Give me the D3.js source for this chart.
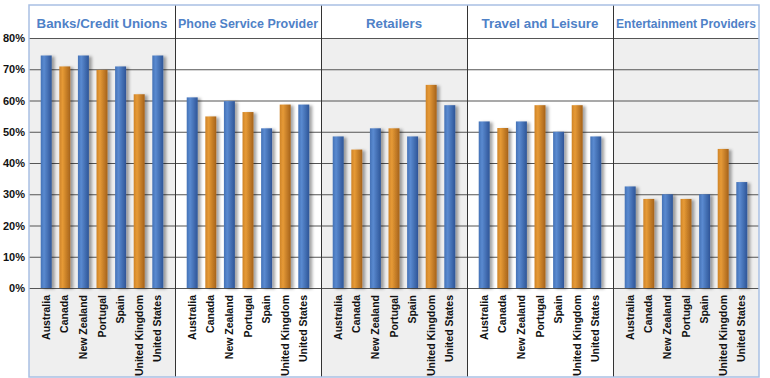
<!DOCTYPE html>
<html>
<head>
<meta charset="utf-8">
<script src="https://cdn.jsdelivr.net/npm/d3@7"></script>
<style>
  body { margin: 0; background: #fff; }
  svg { display: block; font-family: "Liberation Sans", Arial, sans-serif; }
</style>
</head>
<body>
<svg width="770" height="378"></svg>
<script>
// ---- Dados
const categories = ['Banks/Credit Unions', 'Phone Service Provider', 'Retailers', 'Travel and Leisure', 'Entertainment Providers'];
const countries = ['Australia', 'Canada', 'New Zealand', 'Portugal', 'Spain', 'United Kingdom', 'United States'];

const banks = [74.4, 70.9, 74.4, 69.8, 70.9, 62, 74.4];
const phone = [61, 54.9, 59.8, 56.3, 51.1, 58.7, 58.7];
const retailers = [48.5, 44.3, 51.1, 51.1, 48.5, 65, 58.5];
const travel = [53.3, 51.2, 53.3, 58.5, 50, 58.5, 48.5];
const entertainment = [32.5, 28.5, 30, 28.5, 30, 44.5, 33.9];

const yTicks = [0, 10, 20, 30, 40, 50, 60, 70, 80];

const series = [banks, phone, retailers, travel, entertainment];

const svg = d3.select('svg');
const box = { left: 29, right: 759, top: 5, bottom: 377 };

// ---- Escalas
const x0 = d3.scaleBand()
    .domain(categories)
    .range([box.left, box.right]);

const x1 = d3.scaleBand()
    .domain(countries)
    .range([0, x0.bandwidth()])
    .paddingInner(0.41)
    .paddingOuter(0.63);

const y = d3.scaleLinear()
    .domain([0, 80])
    .range([288, 38]);

// ---- Gradientes e sombra
const defs = svg.append('defs');
function gradient(id, dark, light, mid) {
    const g = defs.append('linearGradient').attr('id', id)
        .attr('x1', '0%').attr('x2', '100%').attr('y1', '0%').attr('y2', '0%');
    g.append('stop').attr('offset', '0%').attr('stop-color', mid);
    g.append('stop').attr('offset', '30%').attr('stop-color', light);
    g.append('stop').attr('offset', '100%').attr('stop-color', dark);
}
gradient('blue', '#2e5597', '#5a8ad0', '#4472b6');
gradient('orange', '#a5621a', '#e69a36', '#cf8428');

const shadow = defs.append('filter').attr('id', 'shadow')
    .attr('x', '-20%').attr('y', '-10%').attr('width', '180%').attr('height', '120%');
shadow.append('feDropShadow')
    .attr('dx', 3).attr('dy', 1).attr('stdDeviation', 1.6)
    .attr('flood-color', '#000').attr('flood-opacity', 0.35);

// ---- Fundos dos painéis
svg.selectAll('rect.fundo')
    .data(categories)
    .enter()
    .append('rect')
    .attr('class', 'fundo')
    .attr('x', d => x0(d))
    .attr('y', y(80))
    .attr('width', x0.bandwidth())
    .attr('height', box.bottom - y(80))
    .attr('fill', (d, i) => i % 2 === 0 ? '#efefef' : '#ffffff');

// ---- Grade
const grade = svg.append('g')
    .attr('transform', `translate(${box.left}, 0)`)
    .call(d3.axisLeft(y).tickValues(yTicks).tickSize(-(box.right - box.left)).tickFormat(''));
grade.select('.domain').remove();
grade.selectAll('line').attr('stroke', '#555').attr('stroke-width', 1.1);

// ---- Eixo Y
const eixoY = svg.append('g')
    .attr('transform', `translate(${box.left}, 0)`)
    .call(d3.axisLeft(y).tickValues(yTicks).tickSize(0).tickPadding(4).tickFormat(d => d + '%'));
eixoY.select('.domain').remove();
eixoY.selectAll('text')
    .attr('fill', '#111')
    .style('font-size', '11px')
    .style('font-weight', 'bold');

// ---- Painéis
categories.forEach((cat, ci) => {
    const g = svg.append('g').attr('transform', `translate(${x0(cat)}, 0)`);

    g.selectAll('rect.barra')
        .data(series[ci])
        .enter()
        .append('rect')
        .attr('class', 'barra')
        .attr('x', (d, i) => x1(countries[i]))
        .attr('y', d => y(d))
        .attr('width', x1.bandwidth())
        .attr('height', d => y(0) - y(d))
        .attr('fill', (d, i) => i % 2 === 0 ? 'url(#blue)' : 'url(#orange)')
        .attr('filter', 'url(#shadow)');

    const eixoX = g.append('g')
        .attr('transform', `translate(0, ${y(0)})`)
        .call(d3.axisBottom(x1).tickSize(0).tickPadding(0));
    eixoX.select('.domain').remove();
    eixoX.selectAll('text')
        .attr('transform', 'rotate(-90)')
        .attr('x', -7)
        .attr('y', 0)
        .attr('dy', '0.35em')
        .attr('text-anchor', 'end')
        .attr('fill', '#111')
        .style('font-size', '10.5px')
        .style('font-weight', 'bold');

    const titulo = g.append('text')
        .attr('x', x0.bandwidth() / 2)
        .attr('y', 28)
        .attr('text-anchor', 'middle')
        .attr('fill', '#4f81c7')
        .style('font-size', '13.3px')
        .style('font-weight', 'bold')
        .text(cat);
    const w = titulo.node().getComputedTextLength();
    if (w > 140) titulo.style('font-size', (13.3 * 140 / w) + 'px');
});

// ---- Divisórias
svg.selectAll('line.divisoria')
    .data(categories.slice(1))
    .enter()
    .append('line')
    .attr('class', 'divisoria')
    .attr('x1', d => x0(d) + 0.5)
    .attr('x2', d => x0(d) + 0.5)
    .attr('y1', box.top)
    .attr('y2', box.bottom)
    .attr('stroke', '#333')
    .attr('stroke-width', 1);

// ---- Borda
svg.append('rect')
    .attr('x', box.left)
    .attr('y', box.top)
    .attr('width', box.right - box.left)
    .attr('height', box.bottom - box.top)
    .attr('fill', 'none')
    .attr('stroke', '#a9c0e4')
    .attr('stroke-width', 1.5);
</script>
</body>
</html>
